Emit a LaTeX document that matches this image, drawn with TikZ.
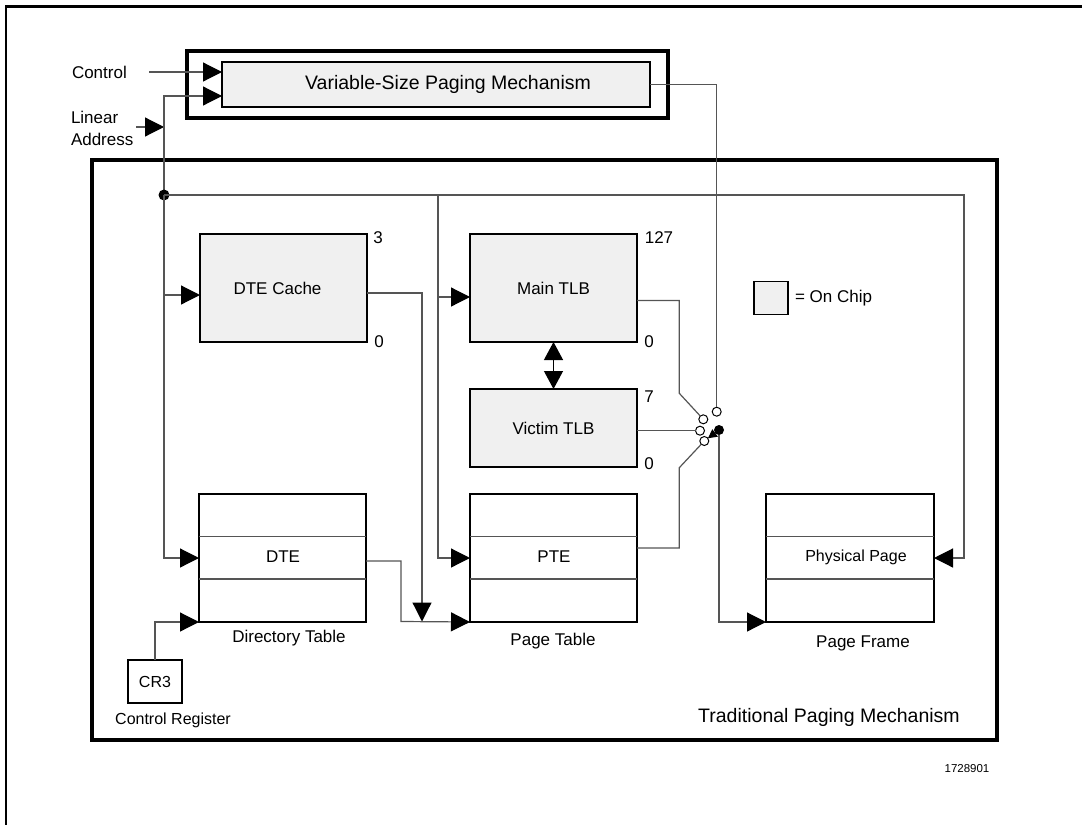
\documentclass[tikz,border=0pt]{standalone}
\usepackage{fontspec}
\setmainfont{Liberation Sans}
\usetikzlibrary{arrows.meta}
\definecolor{chipgray}{HTML}{F0F0F0}
\definecolor{linegray}{HTML}{555555}
\begin{document}
\begin{tikzpicture}[x=1pt,y=-1pt,
  every node/.style={font=\fontsize{17}{20}\selectfont, inner sep=0pt, outer sep=0pt},
  conn/.style={draw=linegray, line width=1.2pt},
  tri/.style={-{Triangle[length=19pt,width=19pt,color=black]}},
  chip/.style={draw, line width=2.2pt, fill=chipgray},
  tbl/.style={draw, line width=2.2pt, fill=white},
  rowl/.style={draw=linegray, line width=1.2pt},
  heavy/.style={draw, line width=4pt},
  sw/.style={circle, draw, line width=1pt, fill=white, minimum size=9pt, inner sep=0pt},
  lbl/.style={font=\fontsize{16}{19}\selectfont},
]
\useasboundingbox (0,0) rectangle (1082,825);
% page frame lines
\draw[line width=3pt] (5,6.5) -- (1082,6.5);
\draw[line width=2pt] (6,5) -- (6,825);

% variable-size paging mechanism
\node[heavy, minimum width=481pt, minimum height=67pt] (vouter) at (427.5,84.5) {};
\node[chip, minimum width=428pt, minimum height=45pt, font=\fontsize{19.5}{22}\selectfont] (vspm) at (436,84.5) {\hspace*{24pt}Variable-Size Paging Mechanism};

% traditional paging mechanism
\node[heavy, minimum width=905pt, minimum height=580pt] (trad) at (544.5,450) {};
\node[font=\fontsize{19.5}{22}\selectfont] (tradl) at (829,717) {Traditional Paging Mechanism};

% inputs
\node[anchor=west] (ctrl) at (72,72) {Control};
\coordinate (cstart) at (149,72);
\draw[conn,tri] (cstart) -- (vspm.west |- cstart);
\node[anchor=west, align=left, font=\fontsize{17}{22}\selectfont] (lin) at (71,128) {Linear\\Address};
\coordinate (laS) at (136,127);
\coordinate (busT) at (164,96);
\coordinate (bus) at (164,195);
\coordinate (bus2) at (438,195);
\coordinate (bus3) at (964,195);
\draw[conn,tri] (laS) -- (busT |- laS);

% chip boxes
\node[chip, minimum width=167pt, minimum height=108pt] (dtec) at (283.5,288) {\hspace*{-12pt}DTE Cache};
\node[chip, minimum width=167pt, minimum height=108pt] (mtlb) at (553.5,288) {Main TLB};
\node[chip, minimum width=167pt, minimum height=78pt] (vtlb) at (553.5,428) {Victim TLB};
\node (n3) at (378,238) {3};
\node (n0a) at (379,342) {0};
\node (n127) at (659,238) {127};
\node (n0b) at (649,342) {0};
\node (n7) at (649,397) {7};
\node (n0c) at (649,464) {0};

% legend
\node[chip, line width=1.2pt, minimum width=34pt, minimum height=33pt] (leg) at (771,298) {};
\node[anchor=west] (legt) at (795,298) {= On Chip};

% tables
\node[tbl, minimum width=167pt, minimum height=128pt] (dirt) at (282.5,558) {};
\node[tbl, minimum width=167pt, minimum height=128pt] (pt) at (553.5,558) {};
\node[tbl, minimum width=168pt, minimum height=128pt] (pf) at (850,558) {};
\foreach \t in {dirt,pt,pf}{
  \draw[rowl] (\t.west |- 0,536.5) -- (\t.east |- 0,536.5);
  \draw[rowl] (\t.west |- 0,579) -- (\t.east |- 0,579);
}
\node (dte) at (283,557) {DTE};
\node (pte) at (554,557) {PTE};
\node[lbl] (ppage) at (856,557) {Physical Page};
\node (dirl) at (289,638) {Directory Table};
\node (ptl) at (553,641) {Page Table};
\node (pfl) at (863,643) {Page Frame};

% CR3
\node[tbl, minimum width=54pt, minimum height=43pt, lbl] (cr3) at (155,681.5) {CR3};
\node[lbl] (cr3l) at (173,720) {Control Register};

% number
\node[font=\fontsize{11.5}{13}\selectfont] (fig) at (967,769) {1728901};

% switch contacts
\node[sw] (c0) at (716.7,411.7) {};
\node[sw] (c1) at (703.3,419.3) {};
\node[sw] (c2) at (700,430.7) {};
\node[sw] (c3) at (704.3,441) {};
\node[circle, fill=black, minimum size=10pt] (dot) at (719,430) {};

% connectors
\draw[conn,tri] (bus) -- (busT) -- (vspm.west |- busT);
\fill (bus) circle (5.5pt);
\draw[conn,tri] (bus) |- (dirt.west);
\draw[conn,tri] (bus |- 0,295) -- (dtec.west |- 0,295);
\draw[conn,tri] (bus) -- (bus3) |- (pf.east);
\draw[conn,tri] (bus2) |- (pt.west);
\draw[conn,tri] (bus2 |- 0,297) -- (mtlb.west |- 0,297);
\draw[conn,tri] (dtec.east |- 0,293) -| (422,621.5);
\draw[conn,tri] (dirt.east |- 0,561) -| (401,621.5) -- (pt.south west);
\draw[conn,tri] (cr3.north) |- (dirt.south west);
\draw[line width=1.2pt, {Triangle[length=18pt,width=19pt]}-{Triangle[length=18pt,width=19pt]}] (mtlb.south) -- (vtlb.north);
\draw[conn] (vspm.east) -| (c0);
\draw[conn] (mtlb.east |- 0,300.5) -- (679.3,300.5) -- (679.3,393.3) -- (c1);
\draw[conn] (vtlb.east |- c2) -- (c2);
\draw[conn] (pt.east |- 0,548) -- (679.3,548) -- (679.3,467.7) -- (c3);
\draw[conn,-{Triangle[length=9pt,width=9pt,color=black]}] (dot) -- (c3);
\draw[conn,tri] (dot) |- (pf.south west);
\end{tikzpicture}
\end{document}
